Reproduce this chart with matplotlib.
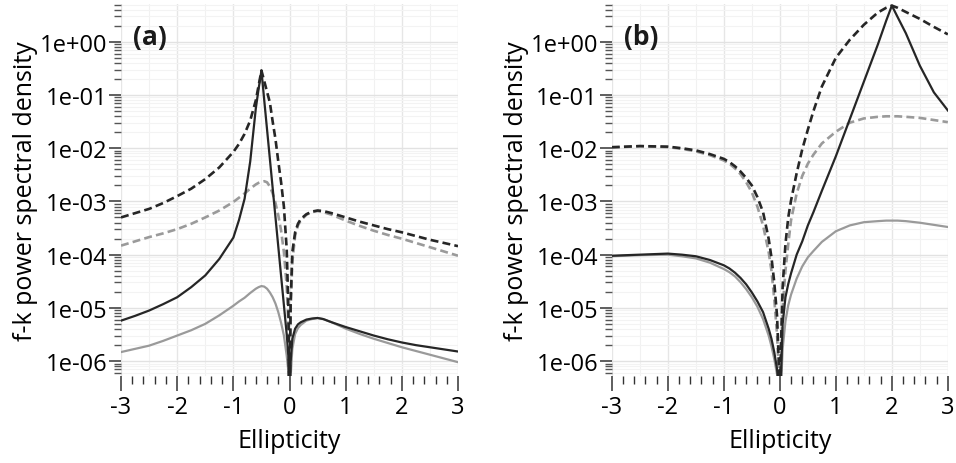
import numpy as np
import matplotlib
matplotlib.use("Agg")
import matplotlib.pyplot as plt
from matplotlib.ticker import FixedLocator, FuncFormatter, LogLocator, NullFormatter

plt.rcParams['font.family'] = ['Open Sans', 'DejaVu Sans']
plt.rcParams['axes.unicode_minus'] = False

# values, stored as log10(power)
# panel (a)
a_x = [-3, -2.75, -2.5, -2.25, -2, -1.75, -1.5, -1.25, -1, -0.9, -0.8, -0.7, -0.6, -0.55, -0.5,
       -0.45, -0.4, -0.35, -0.3, -0.25, -0.2, -0.15, -0.1, -0.05, -0.02, 0, 0.02, 0.05, 0.1, 0.15,
       0.2, 0.3, 0.4, 0.5, 0.6, 0.75, 1, 1.25, 1.5, 1.75, 2, 2.25, 2.5, 2.75, 3]
a_black_dash = [-3.30, -3.22, -3.14, -3.03, -2.90, -2.76, -2.58, -2.36, -2.07, -1.92, -1.73, -1.48,
                -1.10, -0.82, -0.54, -0.74, -0.94, -1.14, -1.50, -1.83, -2.25, -2.64, -3.10, -3.90,
                -5.0, -7.0, -4.9, -3.95, -3.58, -3.42, -3.33, -3.24, -3.19, -3.17, -3.18, -3.22,
                -3.30, -3.38, -3.45, -3.52, -3.58, -3.65, -3.72, -3.78, -3.84]
a_gray_dash = [-3.83, -3.75, -3.67, -3.60, -3.52, -3.42, -3.30, -3.17, -3.01, -2.93, -2.85, -2.76,
               -2.68, -2.65, -2.63, -2.62, -2.64, -2.72, -2.85, -3.03, -3.26, -3.55, -3.95, -4.6,
               -5.3, -7.0, -5.0, -4.14, -3.64, -3.45, -3.36, -3.25, -3.20, -3.18, -3.20, -3.25,
               -3.36, -3.46, -3.55, -3.63, -3.70, -3.78, -3.86, -3.94, -4.02]
a_black_solid = [-5.24, -5.15, -5.05, -4.93, -4.80, -4.61, -4.39, -4.08, -3.68, -3.35, -2.95, -2.25,
                 -1.25, -0.88, -0.54, -1.10, -1.65, -2.20, -2.75, -3.30, -3.85, -4.40, -4.95, -5.50,
                 -5.90, -7.0, -6.0, -5.58, -5.39, -5.31, -5.27, -5.22, -5.20, -5.19, -5.21, -5.27,
                 -5.36, -5.44, -5.52, -5.59, -5.65, -5.70, -5.74, -5.78, -5.82]
a_gray_solid = [-5.83, -5.77, -5.71, -5.62, -5.52, -5.42, -5.30, -5.14, -4.96, -4.88, -4.81, -4.72,
                -4.64, -4.61, -4.59, -4.60, -4.64, -4.71, -4.80, -4.92, -5.08, -5.28, -5.52, -5.90,
                -6.20, -7.0, -6.30, -5.77, -5.49, -5.38, -5.32, -5.24, -5.21, -5.19, -5.21, -5.27,
                -5.39, -5.49, -5.58, -5.66, -5.74, -5.81, -5.88, -5.95, -6.02]

# panel (b)
b_x = [-3, -2.5, -2, -1.75, -1.5, -1.25, -1, -0.9, -0.8, -0.7, -0.6, -0.5, -0.4, -0.3, -0.2, -0.15,
       -0.1, -0.05, -0.02, 0, 0.02, 0.05, 0.1, 0.15, 0.2, 0.3, 0.4, 0.5, 0.6, 0.75, 1, 1.25, 1.5,
       1.75, 1.9, 2, 2.1, 2.25, 2.5, 2.75, 3]
b_black_dash = [-1.98, -1.96, -1.97, -2.00, -2.04, -2.11, -2.20, -2.26, -2.34, -2.44, -2.56, -2.70,
                -2.92, -3.20, -3.70, -4.05, -4.52, -5.15, -6.0, -7.0, -5.7, -4.6, -3.8, -3.3, -2.98,
                -2.47, -2.02, -1.65, -1.30, -0.84, -0.30, 0.04, 0.32, 0.55, 0.64, 0.68, 0.64, 0.56,
                0.43, 0.28, 0.14]
b_gray_dash = [-1.99, -1.96, -1.98, -2.01, -2.06, -2.13, -2.23, -2.29, -2.38, -2.49, -2.64, -2.83,
               -3.10, -3.45, -3.95, -4.30, -4.83, -5.50, -6.2, -7.0, -6.2, -5.0, -4.3, -3.8, -3.35,
               -2.85, -2.52, -2.29, -2.12, -1.91, -1.69, -1.52, -1.44, -1.41, -1.40, -1.40, -1.40,
               -1.41, -1.43, -1.47, -1.51]
b_black_solid = [-4.02, -4.00, -3.98, -4.00, -4.03, -4.10, -4.20, -4.26, -4.34, -4.44, -4.56, -4.71,
                 -4.88, -5.08, -5.39, -5.58, -5.83, -6.15, -6.5, -7.0, -6.3, -5.3, -4.8, -4.55, -4.35,
                 -4.0, -3.75, -3.45, -3.2, -2.8, -2.15, -1.45, -0.75, -0.05, 0.40, 0.68, 0.47, 0.16,
                 -0.45, -0.95, -1.29]
b_gray_solid = [-4.03, -4.01, -4.00, -4.03, -4.07, -4.15, -4.27, -4.33, -4.41, -4.52, -4.65, -4.80,
                -4.98, -5.21, -5.52, -5.72, -5.96, -6.25, -6.6, -7.0, -6.5, -5.77, -5.25, -4.95, -4.75,
                -4.45, -4.22, -4.05, -3.93, -3.76, -3.56, -3.45, -3.39, -3.37, -3.36, -3.36, -3.36,
                -3.37, -3.40, -3.44, -3.48]

panels = [
    ("(a)", a_x, a_black_dash, a_gray_dash, a_black_solid, a_gray_solid),
    ("(b)", b_x, b_black_dash, b_gray_dash, b_black_solid, b_gray_solid),
]

fig = plt.figure(figsize=(9.56, 4.64), dpi=100)
ax_pos = [[0.1266, 0.1875, 0.3525, 0.8017], [0.640, 0.1875, 0.3515, 0.8017]]

dark = '#262626'
light = '#9a9a9a'

for pos, (tag, xs, bd, gd, bs, gs) in zip(ax_pos, panels):
    ax = fig.add_axes(pos)
    x = np.array(xs)
    ax.plot(x, 10 ** np.array(gs), color=light, lw=1.6, solid_joinstyle='round')
    ax.plot(x, 10 ** np.array(gd), color=light, lw=1.9, dashes=(3, 1.6))
    ax.plot(x, 10 ** np.array(bs), color=dark, lw=1.6, solid_joinstyle='round')
    ax.plot(x, 10 ** np.array(bd), color=dark, lw=1.9, dashes=(3, 1.6))

    ax.set_yscale('log')
    ax.set_xlim(-3, 3)
    ax.set_ylim(10 ** -6.28, 10 ** 0.71)

    ax.set_xticks([-3, -2, -1, 0, 1, 2, 3])
    ax.xaxis.set_minor_locator(FixedLocator(np.arange(-3, 3.01, 0.2)))
    ax.yaxis.set_major_locator(FixedLocator([10.0 ** k for k in range(-6, 1)]))
    ax.yaxis.set_major_formatter(FuncFormatter(lambda v, p: "1e%+03d" % int(round(np.log10(v)))))
    ax.yaxis.set_minor_locator(LogLocator(base=10, subs=np.arange(2, 10), numticks=20))
    ax.yaxis.set_minor_formatter(NullFormatter())

    ax.tick_params(axis='x', which='major', direction='out', length=11, width=1.1,
                   color='#333333', labelsize=17, pad=3)
    ax.tick_params(axis='x', which='minor', direction='out', length=6, width=1.0, color='#333333')
    ax.tick_params(axis='y', which='major', direction='out', length=9, width=1.1,
                   color='#333333', labelsize=17, pad=1)
    ax.tick_params(axis='y', which='minor', direction='out', length=5, width=1.0, color='#555555')

    for s in ax.spines.values():
        s.set_visible(False)

    ax.grid(True, which='major', axis='y', color='#e2e2e2', lw=1.0)
    ax.grid(True, which='minor', axis='y', color='#f3f3f3', lw=0.8)
    ax.grid(True, which='major', axis='x', color='#e6e6e6', lw=1.0)
    for xv in np.arange(-2.5, 3, 1.0):
        ax.axvline(xv, color='#f1f1f1', lw=0.8, zorder=0)
    ax.set_axisbelow(True)

    ax.set_xlabel('Ellipticity', fontsize=18, labelpad=6)
    ax.set_ylabel('f-k power spectral density', fontsize=18, labelpad=1)
    ax.text(0.036, 0.95, tag, transform=ax.transAxes, fontsize=19, fontweight='bold',
            va='top', ha='left', color='#1a1a1a')

fig.savefig('out.png', dpi=100)
